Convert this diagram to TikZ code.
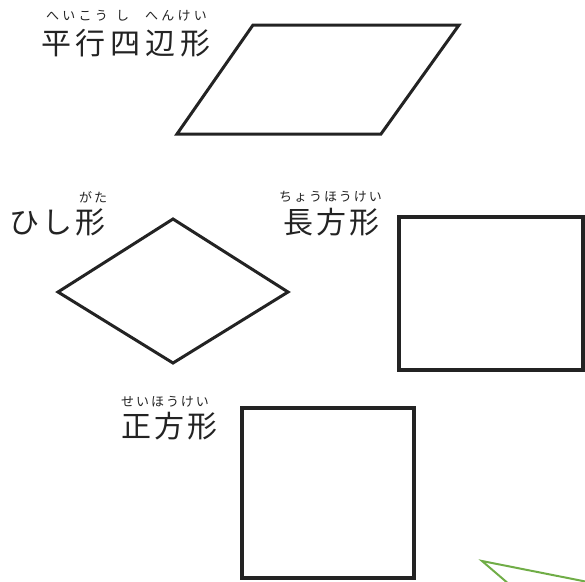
\documentclass[tikz,border=0pt]{standalone}
\usepackage{fontspec}
\newfontfamily\jpfont{Noto Sans CJK JP}
\definecolor{leafgreen}{RGB}{112,173,71}
\definecolor{inkgray}{RGB}{35,35,35}
\begin{document}
\begin{tikzpicture}[x=1pt,y=-1pt, line join=miter,
	figline/.style={draw=inkgray, line width=3pt},
	boxline/.style={draw=inkgray, line width=4pt},
	kanji/.style={anchor=west, inner sep=0pt, text=inkgray, font=\jpfont\fontsize{30}{30}\selectfont\addfontfeature{LetterSpace=#1}},
	kanji/.default=10,
	kana/.style={anchor=west, inner sep=0pt, text=inkgray, font=\jpfont\fontsize{13}{13}\selectfont\addfontfeature{LetterSpace=#1}},
	kana/.default=15]
			\def\xmin{0} \def\xmax{585}
			\def\ymin{0} \def\ymax{581}
			\useasboundingbox (\xmin,\ymin) rectangle (\xmax,\ymax);
			\clip (\xmin,\ymin) rectangle (\xmax,\ymax);
			% labels
			\node[kanji=16] (heikou) at (41,43) {平行四辺形};
			\node[kana=25] (heikouA) at (46,16) {へいこう};
			\node[kana] (heikouB) at (116,16) {し};
			\node[kana=25] (heikouC) at (145,16) {へんけい};
			\node[kanji] (hishi) at (9,222) {ひし形};
			\node[kana] (hishiR) at (79,197) {がた};
			\node[kanji] (chou) at (283,222) {長方形};
			\node[kana] (chouR) at (279,197) {ちょうほうけい};
			\node[kanji] (sei) at (121,426) {正方形};
			\node[kana] (seiR) at (121,402) {せいほうけい};
			% shapes
			\draw[figline] (253,25)--(459,25)--(381,134)--(177,134)--cycle;
			\draw[figline] (173,219)--(288,292)--(173,363)--(58,292)--cycle;
			\draw[boxline] (399,217) rectangle (583,370);
			\draw[boxline] (242,408) rectangle (414,578);
			\draw[leafgreen, line width=2pt] (598,584)--(482,561)--(510,585);
		\end{tikzpicture}
\end{document}
